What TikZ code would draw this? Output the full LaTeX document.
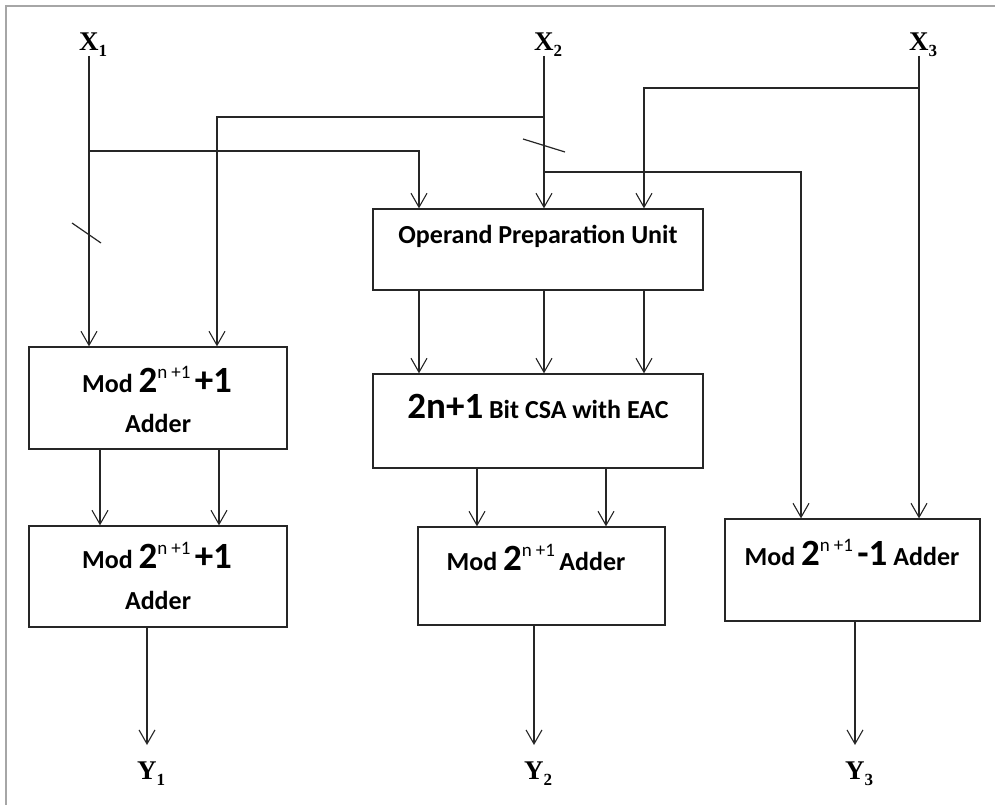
\documentclass[tikz,border=0pt]{standalone}
\usepackage{fontspec}
\setmainfont{Carlito}
\newfontfamily\labfont{Liberation Serif}
\usetikzlibrary{arrows.meta}
\newcommand{\pwr}{{\fontsize{37}{40}\selectfont 2}\raisebox{14pt}{\fontsize{19}{20}\selectfont\mdseries n\hspace{4pt}+1}}
\newcommand{\bigt}[1]{{\fontsize{37}{40}\selectfont #1}}
\newcommand{\sub}[1]{\raisebox{-6pt}{\fontsize{17}{18}\selectfont #1}}
\begin{document}
\begin{tikzpicture}[x=1pt,y=-1pt,
 line/.style={draw=black!85, line width=1.3pt},
 arr/.style={line, -{Straight Barb[length=14pt,width=16pt,line width=1.1pt]}},
 box/.style={line, rectangle, inner sep=0pt},
 txt/.style={anchor=base, font=\fontsize{26}{30}\selectfont\bfseries, inner sep=0pt},
 io/.style={anchor=base west, font=\labfont\fontsize{27}{30}\selectfont\bfseries, inner sep=0pt}]
\useasboundingbox (0,0) rectangle (995,805);
\draw[gray!70, line width=2pt] (6,805) -- (6,6) -- (995,6);

% boxes
\node[box, minimum width=258, minimum height=102] (b1) at (158,398) {};
\node[box, minimum width=258, minimum height=101] (b2) at (158,576.5) {};
\node[box, minimum width=330, minimum height=81] (opu) at (538,249.5) {};
\node[box, minimum width=330, minimum height=94] (csa) at (538,421) {};
\node[box, minimum width=247, minimum height=98] (mid) at (541.5,576) {};
\node[box, minimum width=255, minimum height=102] (m1) at (852.5,570) {};

% box texts
\node[txt] (b1t1) at (157,392) {Mod \pwr\,\bigt{+1}};
\node[txt] (b1t2) at (158,432) {Adder};
\node[txt] (b2t1) at (157,568) {Mod \pwr\,\bigt{+1}};
\node[txt] (b2t2) at (158,609) {Adder};
\node[txt] (opt) at (538,243) {Operand Preparation Unit};
\node[txt] (csat) at (538,418) {\bigt{2n+1} Bit CSA with EAC};
\node[txt] (midt) at (536,570) {Mod \pwr\,Adder};
\node[txt] (m1t) at (852,565) {Mod \pwr\,\bigt{-1} Adder};

% inputs / outputs
\node[io] (x1) at (79,51) {X\sub{1}};
\node[io] (x2) at (534,51) {X\sub{2}};
\node[io] (x3) at (909,51) {X\sub{3}};
\node[io] (y1) at (137,779) {Y\sub{1}};
\node[io] (y2) at (524,779) {Y\sub{2}};
\node[io] (y3) at (845,779) {Y\sub{3}};

% junction coordinates
\coordinate (x1s) at (89,56);
\coordinate (x2s) at (544,56);
\coordinate (x3s) at (919,56);
\coordinate (j1) at (89,151);   \coordinate (j1e) at (419,151);
\coordinate (j2) at (544,117);  \coordinate (j2e) at (217,117);
\coordinate (j3) at (544,172);  \coordinate (j3e) at (801,172);
\coordinate (j4) at (919,88);   \coordinate (j4e) at (644,88);
\coordinate (c1) at (477,0);    \coordinate (c2) at (606,0);
\coordinate (d1) at (100,0);    \coordinate (d2) at (219,0);
\coordinate (o1) at (147,745);  \coordinate (o2) at (534,745);  \coordinate (o3) at (855,745);

% connectors
\draw[arr] (x1s) -- (x1s |- b1.north);
\draw[arr] (x2s) -- (x2s |- opu.north);
\draw[arr] (x3s) -- (x3s |- m1.north);
\draw[arr] (j1) -- (j1e) -- (j1e |- opu.north);
\draw[arr] (j2) -- (j2e) -- (j2e |- b1.north);
\draw[arr] (j3) -- (j3e) -- (j3e |- m1.north);
\draw[arr] (j4) -- (j4e) -- (j4e |- opu.north);

\draw[arr] (opu.south -| j1e) -- (csa.north -| j1e);
\draw[arr] (opu.south -| x2s) -- (csa.north -| x2s);
\draw[arr] (opu.south -| j4e) -- (csa.north -| j4e);

\draw[arr] (csa.south -| c1) -- (mid.north -| c1);
\draw[arr] (csa.south -| c2) -- (mid.north -| c2);

\draw[arr] (b1.south -| d1) -- (b2.north -| d1);
\draw[arr] (b1.south -| d2) -- (b2.north -| d2);

\draw[arr] (b2.south -| o1) -- (o1);
\draw[arr] (mid.south -| o2) -- (o2);
\draw[arr] (m1.south -| o3) -- (o3);

% bus slashes
\draw[line, line width=1.2pt] (72,223) -- (101,243);
\draw[line, line width=1.2pt] (523,139) -- (565,152);
\end{tikzpicture}
\end{document}
